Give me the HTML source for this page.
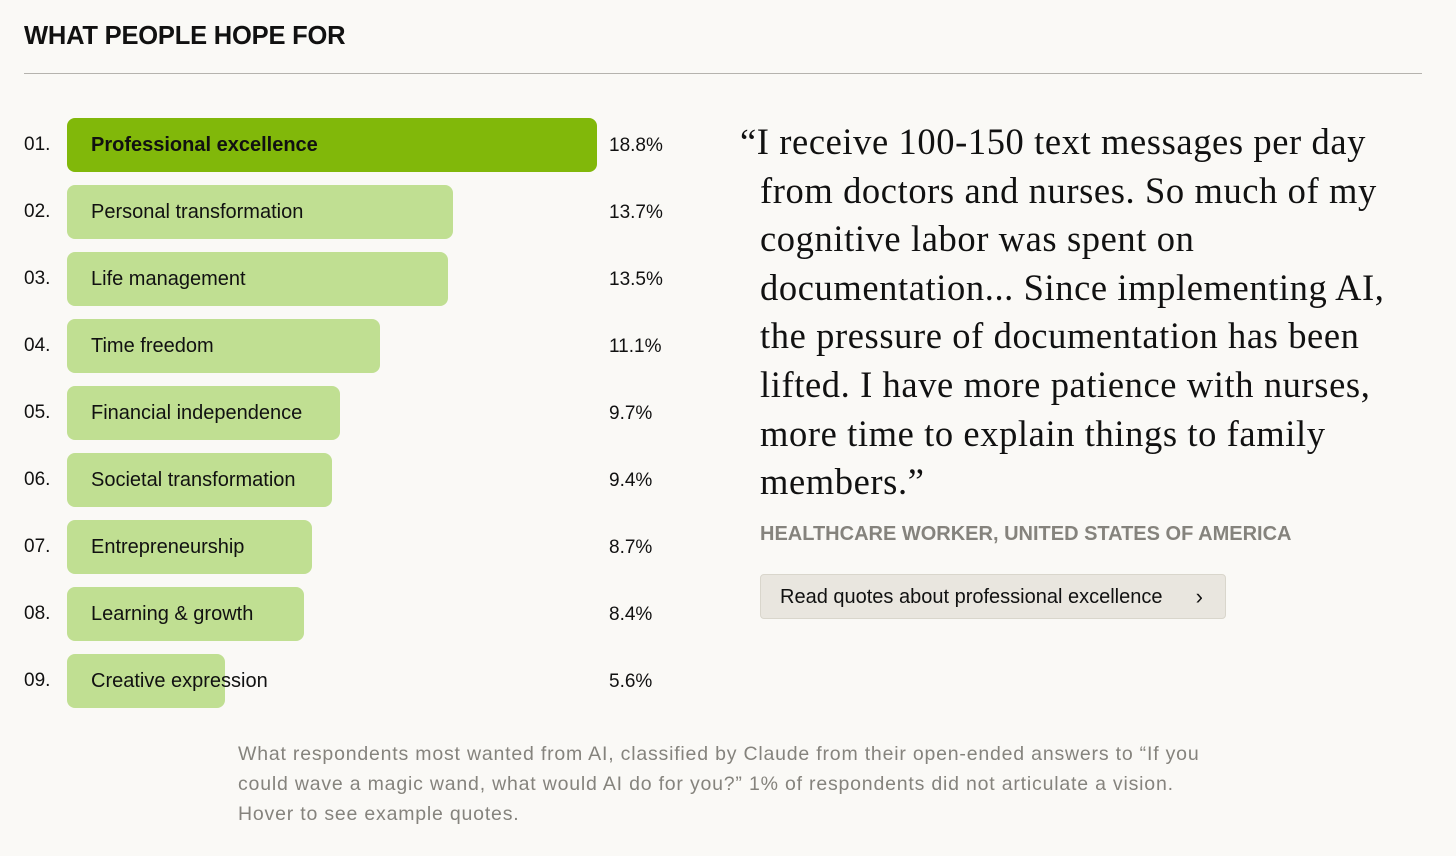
<!DOCTYPE html>
<html><head><meta charset="utf-8"><style>
body{margin:0;width:1456px;height:856px;background:#faf9f6;font-family:"Liberation Sans",sans-serif;color:#111;position:relative;overflow:hidden}
.abs{position:absolute}
#title{left:24px;top:22px;font-size:25.5px;font-weight:bold;letter-spacing:-0.2px}
#rule{left:24px;top:73px;width:1398px;height:1px;background:#b5b3ae}
.num{font-size:19px;left:24px}
.bar{left:67px;height:54px;border-radius:8px;background:#c0df92}
.bar.top{background:#81b80a}
.lbl{left:91px;font-size:20px}
.pct{left:609px;font-size:19px}
#quote{left:740px;top:118px;width:700px;font-family:"Liberation Serif",serif;font-size:36.5px;line-height:48.6px;padding-left:20px;text-indent:-20px;letter-spacing:0.6px;white-space:nowrap}
#attr{left:760px;top:523px;font-size:20px;font-weight:bold;color:#85837d}
#btn{left:760px;top:574px;width:466px;height:45px;border:1px solid #d9d6cc;background:#e9e6df;border-radius:4px;font-size:20px;line-height:44px;padding-left:19px;box-sizing:border-box}
#cap{left:238px;top:739px;width:1100px;font-size:19.5px;line-height:30px;color:#85837d;white-space:nowrap;letter-spacing:0.8px}
</style></head><body>
<div class="abs" id="title">WHAT PEOPLE HOPE FOR</div>
<div class="abs" id="rule"></div>
<div id="chart"></div>
<div class="abs" id="quote">“I receive 100-150 text messages per day<br>from doctors and nurses. So much of my<br>cognitive labor was spent on<br>documentation... Since implementing AI,<br>the pressure of documentation has been<br>lifted. I have more patience with nurses,<br>more time to explain things to family<br>members.”</div>
<div class="abs" id="attr">HEALTHCARE WORKER, UNITED STATES OF AMERICA</div>
<div class="abs" id="btn">Read quotes about professional excellence <span style="position:absolute;right:22px;font-size:22px">&#x203A;</span></div>
<div class="abs" id="cap">What respondents most wanted from AI, classified by Claude from their open-ended answers to “If you<br>could wave a magic wand, what would AI do for you?” 1% of respondents did not articulate a vision.<br>Hover to see example quotes.</div>
<script>
const categories=["Professional excellence","Personal transformation","Life management","Time freedom","Financial independence","Societal transformation","Entrepreneurship","Learning & growth","Creative expression"];
const values=[18.8,13.7,13.5,11.1,9.7,9.4,8.7,8.4,5.6];
const xMax=18.8, xPx=530, rowTop=118, rowStep=67;
const x=v=>v/xMax*xPx;
const y=i=>rowTop+i*rowStep;
const chart=document.getElementById('chart');
categories.forEach((c,i)=>{
  const n=document.createElement('div');n.className='abs num';n.style.top=(y(i)+16)+'px';n.textContent=String(i+1).padStart(2,'0')+'.';
  
  
  chart.appendChild(n);
  const b=document.createElement('div');b.className='abs bar'+(i===0?' top':'');b.style.top=y(i)+'px';b.style.width=x(values[i])+'px';
  
  
  chart.appendChild(b);
  const l=document.createElement('div');l.className='abs lbl';l.style.top=(y(i)+16)+'px';l.textContent=c;if(i===0)l.style.fontWeight='bold';
  
  
  chart.appendChild(l);
  const p=document.createElement('div');p.className='abs pct';p.style.top=(y(i)+17)+'px';p.textContent=values[i].toFixed(1)+'%';
  
  
  chart.appendChild(p);
});
</script>
</body></html>
